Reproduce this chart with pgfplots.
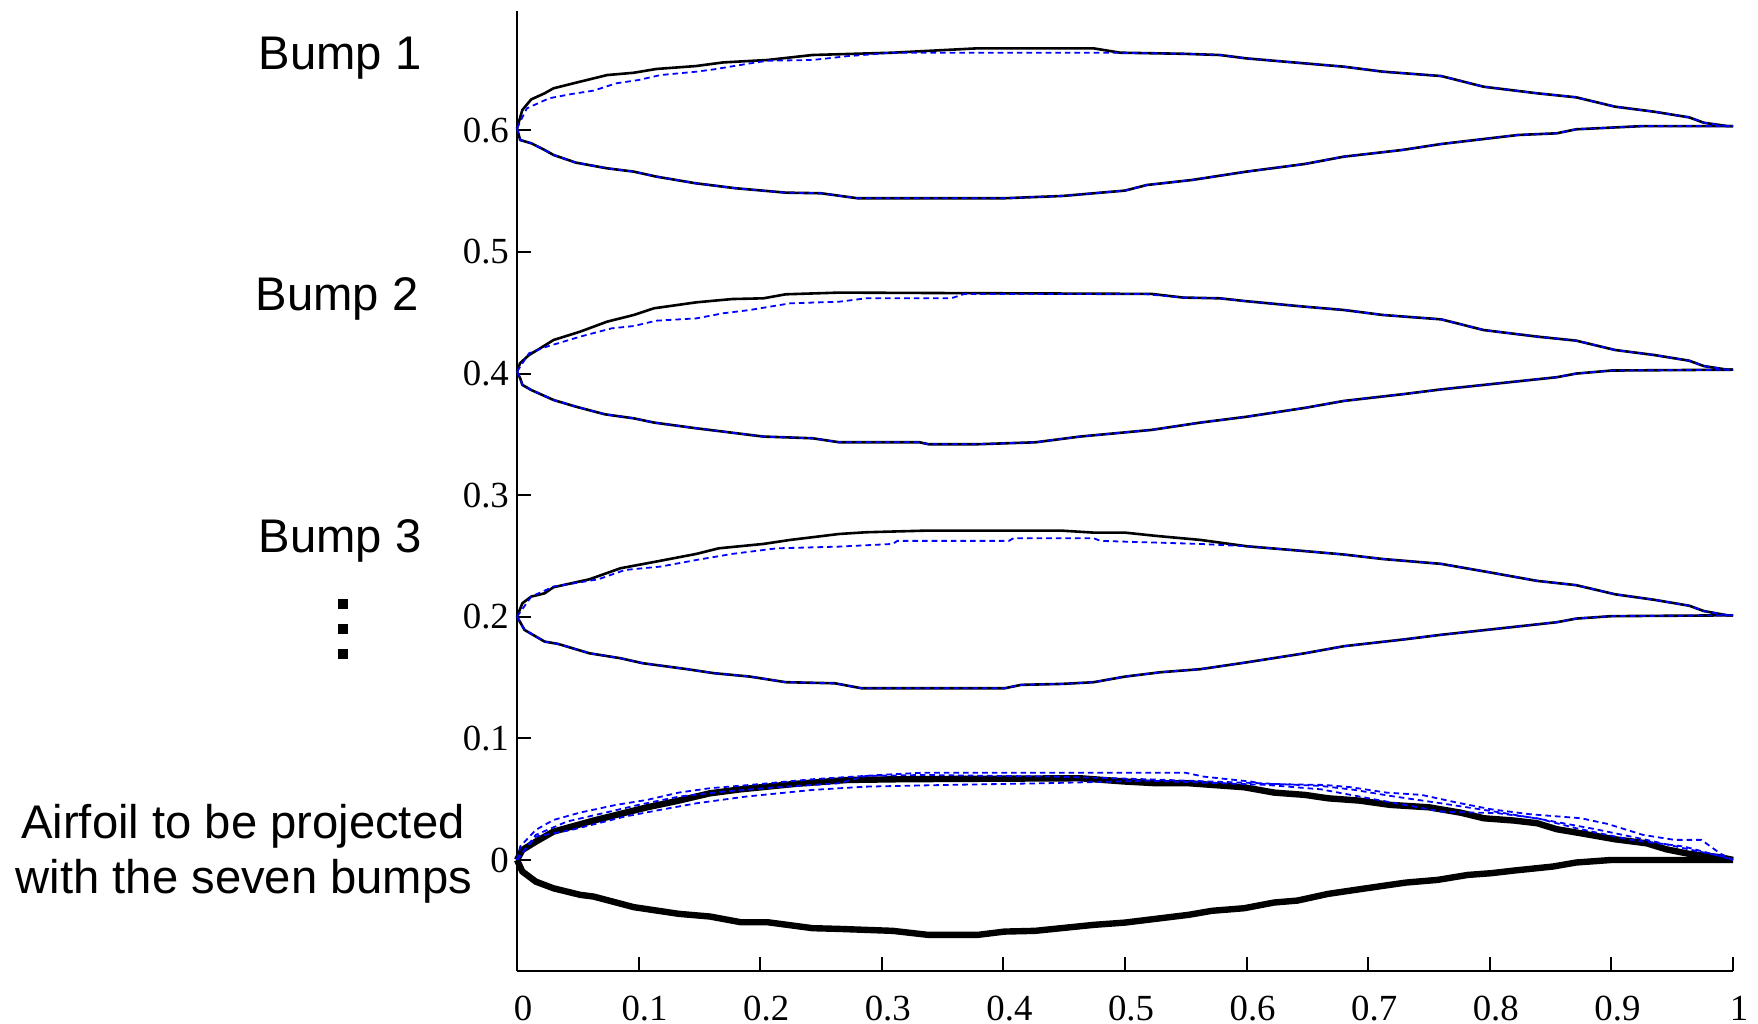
\documentclass[border=0pt]{standalone}
\usepackage{fontspec}
\setmainfont{Liberation Serif}
\newfontfamily\arial{Liberation Sans}
\usepackage{pgfplots}
\pgfplotsset{compat=1.18}
\begin{document}
\begin{tikzpicture}
\useasboundingbox (-129.25pt,-13.25pt) rectangle (310.25pt,242.75pt);
\begin{axis}[
  at={(0,0)}, anchor=south west,
  scale only axis, width=304pt, height=240pt,
  xmin=0, xmax=1, ymin=-0.0913, ymax=0.6982,
  axis lines*=left,
  axis line style={line width=0.6pt},
  tick align=inside,
  major tick length=3.5pt,
  tick style={line width=0.5pt, black},
  xtick={0,0.1,0.2,0.3,0.4,0.5,0.6,0.7,0.8,0.9,1},
  ytick={0,0.1,0.2,0.3,0.4,0.5,0.6},
  ticklabel style={font=\fontsize{9.2}{11}\selectfont},
  /pgf/number format/assume math mode=true,
  xticklabel style={yshift=-2.8pt, xshift=1.5pt},
  yticklabel style={xshift=1.5pt},
  clip=false,
  bk/.style={black, line width=0.65pt},
  bl/.style={blue, line width=0.45pt, dash pattern=on 1.4pt off 1pt},
]
% ---------- Bump 1 ----------
\addplot[bk] coordinates {(0,0.6017) (0.0044,0.6168) (0.0117,0.6255) (0.0227,0.6305) (0.030,0.6346) (0.0484,0.6392) (0.0741,0.6455) (0.096,0.6474) (0.1145,0.6505) (0.147,0.6529) (0.1696,0.6559) (0.206,0.6579) (0.243,0.6620) (0.309,0.6639) (0.379,0.6675) (0.474,0.6675) (0.496,0.6639) (0.548,0.6630) (0.578,0.6620) (0.600,0.6592) (0.648,0.6551) (0.680,0.6524) (0.712,0.6483) (0.760,0.6447) (0.795,0.6359) (0.839,0.6305) (0.871,0.6272) (0.903,0.6195) (0.935,0.6154) (0.964,0.6107) (0.976,0.6063) (0.9955,0.6035) (1.0,0.6035)};
\addplot[bk] coordinates {(0,0.6017) (0.0026,0.5921) (0.0117,0.5894) (0.0227,0.5839) (0.030,0.5798) (0.0484,0.5735) (0.0741,0.5688) (0.096,0.5661) (0.1145,0.5620) (0.147,0.5565) (0.180,0.5524) (0.221,0.5488) (0.250,0.5483) (0.280,0.5442) (0.401,0.5442) (0.449,0.5461) (0.500,0.5505) (0.518,0.5551) (0.555,0.5592) (0.600,0.5661) (0.648,0.5724) (0.680,0.5784) (0.728,0.5839) (0.760,0.5888) (0.823,0.5962) (0.855,0.5976) (0.871,0.6009) (0.925,0.6035) (1.0,0.6035)};
\addplot[bl] coordinates {(0,0.6017) (0.0081,0.6181) (0.0264,0.6264) (0.0448,0.6299) (0.063,0.6327) (0.0815,0.6387) (0.0998,0.6414) (0.118,0.6455) (0.1476,0.6483) (0.162,0.6502) (0.1916,0.6551) (0.206,0.6573) (0.243,0.6579) (0.2724,0.6611) (0.309,0.6639) (0.489,0.6639) (0.548,0.6630) (0.578,0.6620) (0.600,0.6592) (0.648,0.6551) (0.680,0.6524) (0.712,0.6483) (0.760,0.6447) (0.795,0.6359) (0.839,0.6305) (0.871,0.6272) (0.903,0.6195) (0.935,0.6154) (0.964,0.6107) (0.976,0.6063) (0.9955,0.6035) (1.0,0.6035)};
\addplot[bl] coordinates {(0,0.6017) (0.0026,0.5921) (0.0117,0.5894) (0.0227,0.5839) (0.030,0.5798) (0.0484,0.5735) (0.0741,0.5688) (0.096,0.5661) (0.1145,0.5620) (0.147,0.5565) (0.180,0.5524) (0.221,0.5488) (0.250,0.5483) (0.280,0.5442) (0.401,0.5442) (0.449,0.5461) (0.500,0.5505) (0.518,0.5551) (0.555,0.5592) (0.600,0.5661) (0.648,0.5724) (0.680,0.5784) (0.728,0.5839) (0.760,0.5888) (0.823,0.5962) (0.855,0.5976) (0.871,0.6009) (0.925,0.6035) (1.0,0.6035)};
% ---------- Bump 2 ----------
\addplot[bk] coordinates {(0,0.4016) (0.0025,0.4085) (0.0099,0.4153) (0.0191,0.4208) (0.030,0.4276) (0.052,0.4345) (0.0741,0.4427) (0.096,0.4482) (0.1127,0.4537) (0.1475,0.4586) (0.177,0.4613) (0.2026,0.4619) (0.221,0.4652) (0.265,0.4666) (0.522,0.4655) (0.548,0.4625) (0.578,0.4619) (0.600,0.4595) (0.648,0.4550) (0.680,0.4523) (0.712,0.4482) (0.760,0.4446) (0.795,0.4358) (0.839,0.4304) (0.871,0.4271) (0.903,0.4194) (0.935,0.4153) (0.964,0.4106) (0.976,0.4062) (0.9955,0.4032) (1.0,0.4032)};
\addplot[bk] coordinates {(0,0.4016) (0.0026,0.3961) (0.0044,0.3907) (0.0117,0.3865) (0.030,0.3783) (0.0484,0.3728) (0.0723,0.3665) (0.096,0.3632) (0.1127,0.3597) (0.1475,0.3550) (0.2026,0.3482) (0.243,0.3468) (0.265,0.3435) (0.331,0.3435) (0.3385,0.3419) (0.379,0.3419) (0.4265,0.3435) (0.463,0.3482) (0.522,0.3537) (0.562,0.3597) (0.600,0.3645) (0.648,0.3718) (0.680,0.3775) (0.728,0.3830) (0.760,0.3870) (0.800,0.3912) (0.855,0.3970) (0.871,0.4000) (0.900,0.4025) (1.0,0.4032)};
\addplot[bl] coordinates {(0,0.4016) (0.0099,0.4167) (0.0227,0.4216) (0.052,0.4304) (0.0778,0.4372) (0.096,0.4391) (0.1145,0.4435) (0.1475,0.4454) (0.1696,0.4496) (0.1916,0.4523) (0.2247,0.4578) (0.265,0.4591) (0.287,0.4619) (0.357,0.4619) (0.368,0.4655) (0.515,0.4655) (0.548,0.4625) (0.578,0.4619) (0.600,0.4595) (0.648,0.4550) (0.680,0.4523) (0.712,0.4482) (0.760,0.4446) (0.795,0.4358) (0.839,0.4304) (0.871,0.4271) (0.903,0.4194) (0.935,0.4153) (0.964,0.4106) (0.976,0.4062) (0.9955,0.4032) (1.0,0.4032)};
\addplot[bl] coordinates {(0,0.4016) (0.0026,0.3961) (0.0044,0.3907) (0.0117,0.3865) (0.030,0.3783) (0.0484,0.3728) (0.0723,0.3665) (0.096,0.3632) (0.1127,0.3597) (0.1475,0.3550) (0.2026,0.3482) (0.243,0.3468) (0.265,0.3435) (0.331,0.3435) (0.3385,0.3419) (0.379,0.3419) (0.4265,0.3435) (0.463,0.3482) (0.522,0.3537) (0.562,0.3597) (0.600,0.3645) (0.648,0.3718) (0.680,0.3775) (0.728,0.3830) (0.760,0.3870) (0.800,0.3912) (0.855,0.3970) (0.871,0.4000) (0.900,0.4025) (1.0,0.4032)};
% ---------- Bump 3 ----------
\addplot[bk] coordinates {(0,0.2001) (0.0044,0.2111) (0.0117,0.2166) (0.0227,0.2193) (0.030,0.2243) (0.0595,0.2308) (0.0851,0.2399) (0.1145,0.2454) (0.1475,0.2517) (0.1659,0.2563) (0.2026,0.2599) (0.2247,0.2632) (0.265,0.2681) (0.287,0.2695) (0.3348,0.2708) (0.4486,0.2708) (0.4743,0.2692) (0.500,0.2692) (0.5257,0.2665) (0.562,0.2632) (0.600,0.2580) (0.648,0.2540) (0.680,0.2512) (0.712,0.2475) (0.760,0.2435) (0.800,0.2365) (0.839,0.2295) (0.871,0.2260) (0.903,0.2185) (0.935,0.2140) (0.964,0.2091) (0.976,0.2047) (0.9955,0.2012) (1.0,0.2012)};
\addplot[bk] coordinates {(0,0.2001) (0.0062,0.1892) (0.0227,0.1796) (0.0337,0.1777) (0.0595,0.1700) (0.0851,0.1659) (0.1034,0.1618) (0.140,0.1569) (0.162,0.1536) (0.1916,0.1508) (0.221,0.1462) (0.2614,0.1453) (0.2834,0.1412) (0.401,0.1412) (0.4146,0.1440) (0.4486,0.1448) (0.4743,0.1462) (0.500,0.1508) (0.5294,0.1544) (0.562,0.1569) (0.600,0.1625) (0.648,0.1700) (0.680,0.1758) (0.728,0.1812) (0.760,0.1852) (0.800,0.1895) (0.855,0.1955) (0.871,0.1985) (0.900,0.2005) (1.0,0.2012)};
\addplot[bl] coordinates {(0,0.2001) (0.0117,0.2166) (0.030,0.2248) (0.0668,0.2308) (0.0888,0.2385) (0.1182,0.2413) (0.1475,0.2467) (0.177,0.2517) (0.2137,0.2563) (0.265,0.2577) (0.309,0.2599) (0.3128,0.2624) (0.4045,0.2624) (0.4083,0.2646) (0.4743,0.2646) (0.4798,0.2624) (0.562,0.2599) (0.600,0.2580) (0.648,0.2540) (0.680,0.2512) (0.712,0.2475) (0.760,0.2435) (0.800,0.2365) (0.839,0.2295) (0.871,0.2260) (0.903,0.2185) (0.935,0.2140) (0.964,0.2091) (0.976,0.2047) (0.9955,0.2012) (1.0,0.2012)};
\addplot[bl] coordinates {(0,0.2001) (0.0062,0.1892) (0.0227,0.1796) (0.0337,0.1777) (0.0595,0.1700) (0.0851,0.1659) (0.1034,0.1618) (0.140,0.1569) (0.162,0.1536) (0.1916,0.1508) (0.221,0.1462) (0.2614,0.1453) (0.2834,0.1412) (0.401,0.1412) (0.4146,0.1440) (0.4486,0.1448) (0.4743,0.1462) (0.500,0.1508) (0.5294,0.1544) (0.562,0.1569) (0.600,0.1625) (0.648,0.1700) (0.680,0.1758) (0.728,0.1812) (0.760,0.1852) (0.800,0.1895) (0.855,0.1955) (0.871,0.1985) (0.900,0.2005) (1.0,0.2012)};
% ---------- Airfoil to be projected ----------
\addplot[black, line width=1.6pt] coordinates {(0,0) (0.0044,0.0082) (0.0154,0.015) (0.030,0.0233) (0.0448,0.0274) (0.063,0.0324) (0.0815,0.037) (0.107,0.0433) (0.133,0.0488) (0.1586,0.0548) (0.184,0.0581) (0.228,0.0625) (0.272,0.0658) (0.316,0.0664) (0.463,0.0672) (0.500,0.0645) (0.5257,0.0631) (0.5525,0.0631) (0.598,0.0598) (0.6226,0.0554) (0.648,0.0535) (0.667,0.0507) (0.693,0.0488) (0.718,0.0453) (0.750,0.0433) (0.776,0.0389) (0.795,0.0343) (0.820,0.0324) (0.839,0.0302) (0.855,0.0253) (0.878,0.0214) (0.903,0.0170) (0.929,0.0137) (0.945,0.0088) (0.964,0.005) (0.990,0.0022) (1.0,0.0)};
\addplot[black, line width=1.6pt] coordinates {(0,0) (0.0044,-0.0095) (0.0154,-0.0178) (0.030,-0.0233) (0.052,-0.0287) (0.063,-0.0301) (0.096,-0.0388) (0.133,-0.0443) (0.1586,-0.0465) (0.184,-0.0512) (0.206,-0.0512) (0.243,-0.0561) (0.265,-0.0567) (0.309,-0.0583) (0.338,-0.0616) (0.379,-0.0616) (0.401,-0.0589) (0.426,-0.0583) (0.474,-0.0534) (0.5,-0.0515) (0.5525,-0.0451) (0.5716,-0.0418) (0.598,-0.0397) (0.6226,-0.035) (0.6418,-0.0334) (0.667,-0.0279) (0.699,-0.0232) (0.731,-0.0186) (0.757,-0.0164) (0.782,-0.0123) (0.801,-0.0109) (0.820,-0.0087) (0.852,-0.0054) (0.871,-0.0021) (0.90,0) (1.0,0)};
\addplot[bl] coordinates {(0,0) (0.0026,0.0110) (0.0154,0.0247) (0.030,0.0329) (0.052,0.0390) (0.0815,0.0453) (0.107,0.0494) (0.133,0.0554) (0.1586,0.059) (0.1916,0.0617) (0.243,0.0664) (0.298,0.0699) (0.335,0.0718) (0.5493,0.0718) (0.565,0.0685) (0.604,0.0644) (0.614,0.0625) (0.664,0.0617) (0.686,0.0598) (0.715,0.0554) (0.744,0.0535) (0.773,0.0472) (0.801,0.0417) (0.833,0.0376) (0.875,0.0343) (0.897,0.0296) (0.926,0.0206) (0.952,0.0165) (0.974,0.0165) (0.990,0.005) (1.0,0)};
\addplot[bl] coordinates {(0,0) (0.0154,0.0206) (0.0411,0.0316) (0.0705,0.0384) (0.1,0.0453) (0.133,0.0521) (0.1696,0.0562) (0.2137,0.0598) (0.265,0.0631) (0.287,0.0691) (0.335,0.0699) (0.445,0.0685) (0.52,0.0663) (0.611,0.0631) (0.661,0.0609) (0.689,0.0576) (0.718,0.0527) (0.760,0.0466) (0.804,0.0398) (0.845,0.033) (0.887,0.0253) (0.929,0.0165) (0.966,0.0082) (0.9925,0.0027) (1.0,0)};
\addplot[bl] coordinates {(0,0) (0.0154,0.0192) (0.0448,0.0247) (0.0888,0.0357) (0.1145,0.0406) (0.1475,0.0466) (0.188,0.0521) (0.243,0.0576) (0.287,0.0603) (0.353,0.0617) (0.434,0.0631) (0.52,0.0652) (0.617,0.0617) (0.661,0.0581) (0.705,0.0499) (0.760,0.0398) (0.807,0.0384) (0.839,0.0343) (0.871,0.0261) (0.916,0.0165) (0.960,0.011) (0.99,0.003) (1.0,0)};
\end{axis}
\begin{scope}[every node/.style={font=\arial\fontsize{11.8}{13.75}\selectfont, anchor=base, inner sep=0pt}]
\node at (-44.25pt,225.4pt) {Bump 1};
\node at (-45pt,165.1pt) {Bump 2};
\node at (-44.25pt,104.6pt) {Bump 3};
\node at (-68.5pt,33.1pt) {Airfoil to be projected};
\node at (-68.25pt,19.35pt) {with the seven bumps};
\end{scope}
\fill (-44.85pt,90.4pt) rectangle ++(2.7pt,2.7pt);
\fill (-44.85pt,84.15pt) rectangle ++(2.7pt,2.7pt);
\fill (-44.85pt,77.9pt) rectangle ++(2.7pt,2.7pt);
\end{tikzpicture}
\end{document}
